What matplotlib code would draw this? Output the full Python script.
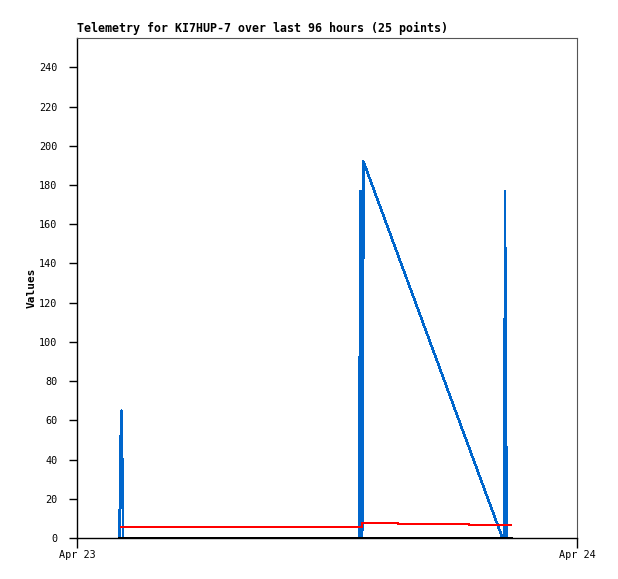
import matplotlib
matplotlib.use("Agg")
import matplotlib.pyplot as plt

# time in hours since Apr 23 00:00
blue_t = [2.04, 2.054, 2.088, 2.136, 2.184, 2.208,
          13.56, 13.57, 13.62, 13.66, 13.69, 13.73, 13.75,
          20.42, 20.52, 20.54, 20.59, 20.62]
blue_v = [0, 16, 48, 65, 32, 0,
          0, 88, 177, 96, 0, 97, 192,
          0, 0, 177, 85, 0]

red_t = [2.11, 13.66, 15.41, 18.82, 20.83]
red_v = [5.6, 7.8, 7.2, 6.6, 6.6]

black_t = [2.02, 20.86]
black_v = [0, 0]

title = "Telemetry for KI7HUP-7 over last 96 hours (25 points)"
x_ticks = [0, 24]
x_labels = ["Apr 23", "Apr 24"]
y_ticks = list(range(0, 241, 20))

fig = plt.figure(figsize=(6.18, 5.79), dpi=100)
ax = fig.add_axes([77/618, 41/579, 500/618, 500/579])
mono = "DejaVu Sans Mono"

ax.plot(blue_t, blue_v, color="#0066cc", lw=1.1, zorder=2, antialiased=False)
ax.plot(red_t, red_v, color="#ff0000", lw=1.1, drawstyle="steps-post", zorder=3, antialiased=False)
ax.plot(black_t, black_v, color="black", lw=1.1, zorder=4, antialiased=False)

ax.set_xlim(0, 24)
ax.set_ylim(0, 255)
ax.set_xticks(x_ticks)
ax.set_xticklabels(x_labels, family=mono, fontsize=7.3)
ax.set_yticks(y_ticks)
ax.set_yticklabels([str(v) for v in y_ticks], family=mono, fontsize=7.3)
ax.tick_params(axis="y", length=6, width=1, pad=8, color="black")
ax.tick_params(axis="x", length=7, width=1, pad=2, color="black")
for s in ["top", "right"]:
    ax.spines[s].set_color("#555555")
    ax.spines[s].set_linewidth(0.8)
for s in ["left", "bottom"]:
    ax.spines[s].set_color("black")
    ax.spines[s].set_linewidth(1)
ax.set_ylabel("Values", family=mono, fontsize=8, fontweight="bold", labelpad=2)
ax.set_title(title, family=mono, fontsize=8.4, fontweight="bold", loc="left", pad=4)

fig.savefig("out.png", dpi=100)
